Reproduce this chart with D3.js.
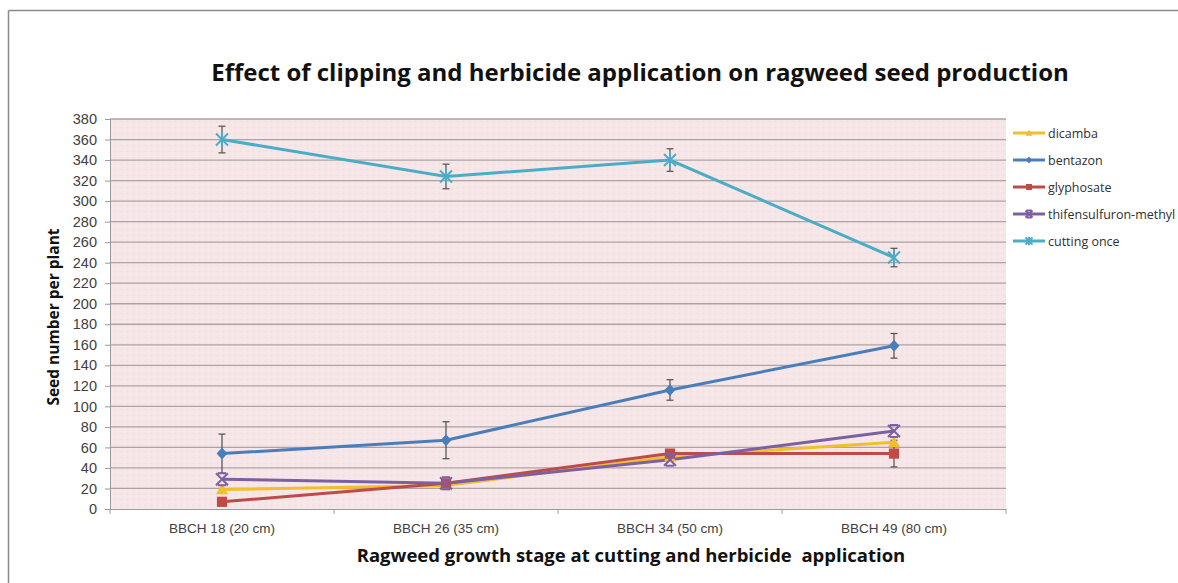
<!DOCTYPE html>
<html><head><meta charset="utf-8">
<script src="https://cdn.jsdelivr.net/npm/d3@7"></script>
<style>
html,body{margin:0;padding:0;background:#fff;overflow:hidden;}
svg{display:block;font-family:"Open Sans","Noto Sans",sans-serif;}
</style></head>
<body><svg id="c" width="1178" height="583"></svg>
<script>
const categories = ["BBCH 18 (20 cm)", "BBCH 26 (35 cm)", "BBCH 34 (50 cm)", "BBCH 49 (80 cm)"];
const seriesNames = ["dicamba", "bentazon", "glyphosate", "thifensulfuron-methyl", "cutting once"];
const dicamba = [19, 23, 51, 65];
const bentazon = [54, 67, 116, 159];
const glyphosate = [7, 25, 54, 54];
const thifensulfuron = [29, 25, 48, 76];
const cuttingOnce = [360, 324, 340, 245];
const bentazonErr = [19, 18, 10, 12];
const glyphosateErr = [0, 0, 0, 13];
const cuttingErr = [13, 12, 11, 9];
const yTicks = d3.range(0, 381, 20);
const titleText = "Effect of clipping and herbicide application on ragweed seed production";
const yLabel = "Seed number per plant";
const xLabel = "Ragweed growth stage at cutting and herbicide  application";

const colors = ["#F2BE2C", "#4A7EBB", "#BE4B48", "#7D60A0", "#4BACC6"];
const shapes = ["triangle", "diamond", "square", "x", "star"];
const values = [dicamba, bentazon, glyphosate, thifensulfuron, cuttingOnce];
const errs = [null, bentazonErr, glyphosateErr, null, cuttingErr];

const svg = d3.select("#c");
// outer frame (top and left edges visible)
svg.append("line").attr("x1", 8.5).attr("x2", 1178).attr("y1", 10.5).attr("y2", 10.5).attr("stroke", "#8a8a8a").attr("stroke-width", 1.5);
svg.append("line").attr("x1", 8.5).attr("x2", 8.5).attr("y1", 10.5).attr("y2", 583).attr("stroke", "#8a8a8a").attr("stroke-width", 1.5);

const L = 110, R = 1006, T = 119, B = 509;
const x = d3.scaleBand().domain(categories).range([L, R]);
const y = d3.scaleLinear().domain([0, 380]).range([B, T]);

// plot background with faint texture
const defs = svg.append("defs");
const pat = defs.append("pattern").attr("id", "tex").attr("width", 6).attr("height", 6).attr("patternUnits", "userSpaceOnUse");
pat.append("rect").attr("width", 6).attr("height", 6).attr("fill", "#F6E6E8");
pat.append("circle").attr("cx", 1.5).attr("cy", 1.5).attr("r", 0.8).attr("fill", "#EFDCDF");
pat.append("circle").attr("cx", 4.5).attr("cy", 4.2).attr("r", 0.7).attr("fill", "#F9EEEF");
svg.append("rect").attr("x", L).attr("y", T).attr("width", R - L).attr("height", B - T).attr("fill", "url(#tex)");

// gridlines
svg.append("g").selectAll("line").data(yTicks.filter(d => d > 0)).join("line")
  .attr("x1", L).attr("x2", R).attr("y1", d => y(d)).attr("y2", d => y(d))
  .attr("stroke", "#ACA3A5").attr("stroke-width", 1.3);

// y axis
const yAxis = svg.append("g").attr("transform", `translate(${L},0)`)
  .call(d3.axisLeft(y).tickValues(yTicks).tickSize(5).tickPadding(8));
yAxis.select(".domain").attr("stroke", "#9a9a9a");
yAxis.selectAll(".tick line").attr("stroke", "#9a9a9a");
yAxis.selectAll("text").attr("font-size", 14.5).attr("fill", "#404040");

// x axis
const xAxis = svg.append("g").attr("transform", `translate(0,${B})`)
  .call(d3.axisBottom(x).tickSize(0).tickPadding(14));
xAxis.select(".domain").attr("stroke", "#9a9a9a");
xAxis.selectAll("text").attr("font-size", 13.5).attr("fill", "#404040");
svg.append("g").selectAll("line").data(d3.range(categories.length + 1)).join("line")
  .attr("x1", i => L + i * x.bandwidth()).attr("x2", i => L + i * x.bandwidth())
  .attr("y1", B).attr("y2", B + 5).attr("stroke", "#9a9a9a");

const cx = i => x(categories[i]) + x.bandwidth() / 2;

function marker(g, shape, color, s) {
  if (shape === "triangle") {
    g.append("path").attr("d", `M0,${-s}L${s},${s * 0.8}L${-s},${s * 0.8}Z`).attr("fill", color);
  } else if (shape === "diamond") {
    g.append("path").attr("d", `M0,${-s}L${s * 0.9},0L0,${s}L${-s * 0.9},0Z`).attr("fill", color);
  } else if (shape === "square") {
    g.append("rect").attr("x", -s * 0.85).attr("y", -s * 0.85).attr("width", s * 1.7).attr("height", s * 1.7).attr("fill", color);
  } else if (shape === "x") {
    g.append("path").attr("d", `M${-s},${-s}L${s},${s}M${s},${-s}L${-s},${s}M${-s * 0.7},${-s}H${s * 0.7}M${-s * 0.7},${s}H${s * 0.7}`)
      .attr("stroke", color).attr("stroke-width", 2).attr("fill", "none");
  } else if (shape === "star") {
    g.append("path").attr("d", `M${-s},${-s}L${s},${s}M${s},${-s}L${-s},${s}M0,${-s * 1.2}V${s * 1.2}`)
      .attr("stroke", color).attr("stroke-width", 2).attr("fill", "none");
  }
}

const line = d3.line().x((d, i) => cx(i)).y(d => y(d));

// lines
values.forEach((vals, k) => {
  svg.append("path").datum(vals).attr("d", line).attr("fill", "none")
    .attr("stroke", colors[k]).attr("stroke-width", 3);
});

// error bars
values.forEach((vals, k) => {
  if (!errs[k]) return;
  const g = svg.append("g");
  vals.forEach((v, i) => {
    const e = errs[k][i];
    if (!e) return;
    const xx = cx(i);
    g.append("line").attr("x1", xx).attr("x2", xx).attr("y1", y(v + e)).attr("y2", y(v - e)).attr("stroke", "#505050").attr("stroke-width", 1.2);
    [v + e, v - e].forEach(t => g.append("line").attr("x1", xx - 3.5).attr("x2", xx + 3.5).attr("y1", y(t)).attr("y2", y(t)).attr("stroke", "#505050").attr("stroke-width", 1.2));
  });
});

// markers
values.forEach((vals, k) => {
  vals.forEach((v, i) => {
    const g = svg.append("g").attr("transform", `translate(${cx(i)},${y(v)})`);
    marker(g, shapes[k], colors[k], 6);
  });
});

// legend
const legY = [133, 160, 187, 214, 241];
seriesNames.forEach((n, k) => {
  const g = svg.append("g").attr("transform", `translate(1013,${legY[k]})`);
  g.append("line").attr("x1", 0).attr("x2", 32).attr("stroke", colors[k]).attr("stroke-width", 3);
  const m = g.append("g").attr("transform", "translate(16,0)");
  marker(m, shapes[k], colors[k], 3.5);
  g.append("text").attr("x", 35).attr("y", 4.5).attr("font-size", 12.5).attr("fill", "#303030").text(n);
});

// title
svg.append("text").attr("x", 640).attr("y", 81).attr("text-anchor", "middle")
  .attr("font-size", 24).attr("font-weight", "bold").attr("fill", "#111").text(titleText);
// y label
svg.append("text").attr("transform", `translate(59,317) rotate(-90)`).attr("text-anchor", "middle")
  .attr("font-size", 15.5).attr("font-weight", "bold").attr("fill", "#111").text(yLabel);
// x label
svg.append("text").attr("x", 631).attr("y", 562).attr("text-anchor", "middle")
  .attr("font-size", 18.5).attr("font-weight", "bold").attr("fill", "#111").style("white-space", "pre").text(xLabel);
</script></body></html>
